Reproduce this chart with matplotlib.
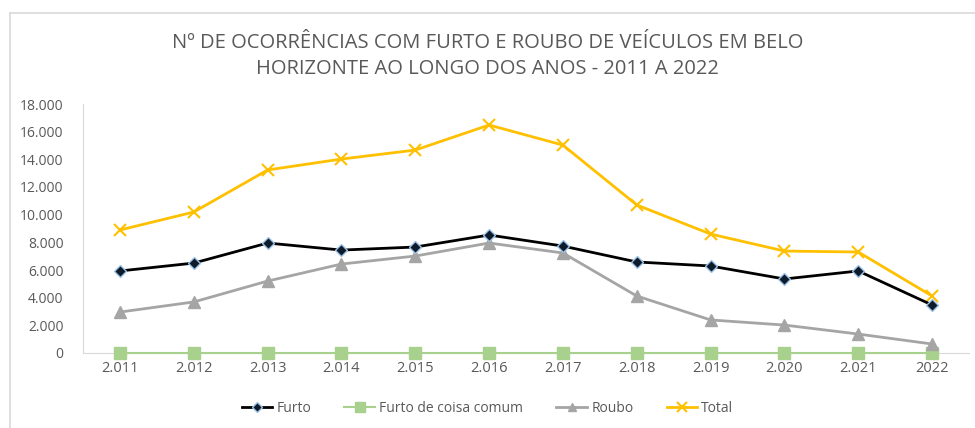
import matplotlib
matplotlib.use("Agg")
import matplotlib.pyplot as plt
from matplotlib.lines import Line2D

years = ["2.011", "2.012", "2.013", "2.014", "2.015", "2.016", "2.017", "2.018", "2.019", "2.020", "2.021", "2022"]
furto = [5930, 6500, 7950, 7440, 7660, 8530, 7730, 6580, 6290, 5350, 5930, 3470]
furto_coisa = [0, 0, 0, 0, 0, 0, 0, 0, 0, 0, 0, 0]
roubo = [2960, 3690, 5200, 6430, 7010, 7950, 7230, 4120, 2390, 2020, 1370, 650]
total = [8890, 10190, 13230, 14020, 14670, 16480, 15030, 10700, 8600, 7370, 7300, 4120]
yticks = [0, 2000, 4000, 6000, 8000, 10000, 12000, 14000, 16000, 18000]
ytick_labels = ["0", "2.000", "4.000", "6.000", "8.000", "10.000", "12.000", "14.000", "16.000", "18.000"]
title = "Nº DE OCORRÊNCIAS COM FURTO E ROUBO DE VEÍCULOS EM BELO\nHORIZONTE AO LONGO DOS ANOS - 2011 A 2022"

plt.rcParams['font.family'] = ['Open Sans', 'DejaVu Sans']
W, H = 975, 428
fig = plt.figure(figsize=(W / 100, H / 100), dpi=100)
fig.patch.set_facecolor("white")

# chart border
fig.add_artist(Line2D([10 / W, 10 / W], [0, 1 - 13 / H], color="#d9d9d9", lw=1.2))
fig.add_artist(Line2D([10 / W, 1], [1 - 13 / H, 1 - 13 / H], color="#d9d9d9", lw=1.2))

ax = fig.add_axes([83 / W, 1 - 353 / H, (969 - 83) / W, (353 - 104) / H])
x = list(range(len(years)))

ax.plot(x, furto_coisa, color="#a9d18e", lw=1.5, marker="s", ms=9, mfc="#a9d18e", mec="#a9d18e", label="Furto de coisa comum", zorder=3, clip_on=False)
ax.plot(x, roubo, color="#a5a5a5", lw=2, marker="^", ms=8, mfc="#a5a5a5", mec="#a5a5a5", label="Roubo", zorder=4, clip_on=False)
ax.plot(x, total, color="#ffc000", lw=2, marker="x", ms=9, mew=1.5, label="Total", zorder=5, clip_on=False)
ax.plot(x, furto, color="#000000", lw=2, marker="D", ms=6, mfc="#0d1b2a", mec="#9dc3e6", mew=1, label="Furto", zorder=6, clip_on=False)

ax.set_xlim(-0.5, len(years) - 0.5)
ax.set_ylim(0, 18000)
ax.set_yticks(yticks)
ax.set_yticklabels(ytick_labels)
ax.set_xticks(x)
ax.set_xticklabels(years)
ax.tick_params(axis="both", length=0, colors="#595959", labelsize=10)
ax.tick_params(axis="y", pad=14)
ax.tick_params(axis="x", pad=6, labelsize=10.5)
for s in ["top", "right"]:
    ax.spines[s].set_visible(False)
ax.spines["left"].set_color("#d9d9d9")
ax.spines["bottom"].set_color("#d9d9d9")
ax.spines["bottom"].set_zorder(1)

fig.text(0.5, 1 - 56 / H, title, ha="center", va="center", fontsize=14.5, color="#595959", linespacing=1.4)

handles, labels = ax.get_legend_handles_labels()
order = ["Furto", "Furto de coisa comum", "Roubo", "Total"]
hmap = dict(zip(labels, handles))
fig.legend([hmap[o] for o in order], order, loc="center", bbox_to_anchor=(0.5, 1 - 408 / H), ncol=4,
           frameon=False, fontsize=10, labelcolor="#595959", handlelength=2.2, columnspacing=2.4,
           handletextpad=0.3, markerscale=0.8)

fig.savefig("out.png", dpi=100, facecolor="white")
